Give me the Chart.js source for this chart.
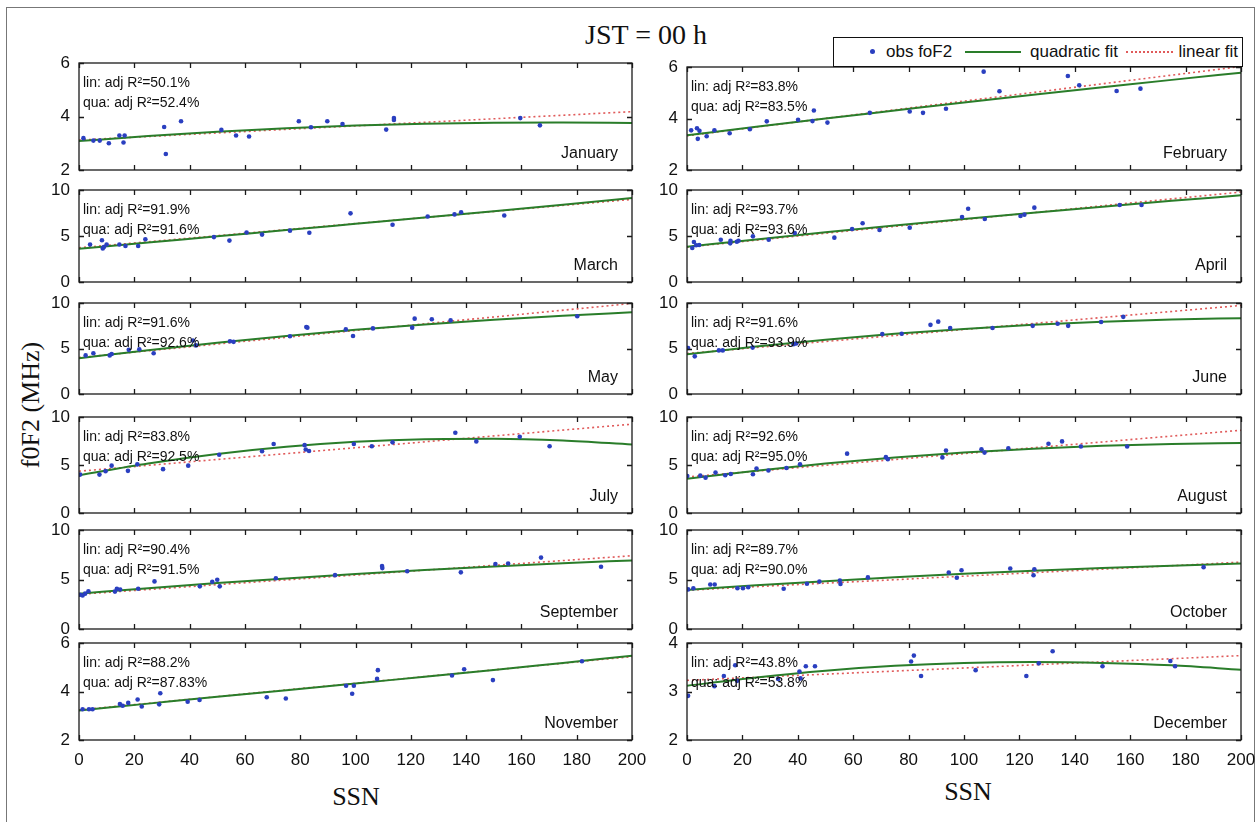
<!DOCTYPE html>
<html>
<head>
<meta charset="utf-8">
<script src="https://cdn.jsdelivr.net/npm/chart.js@4.4.1/dist/chart.umd.min.js"></script>
<style>
  body { margin: 0; background: #fff; }
  #fig { position: relative; width: 1259px; height: 822px; overflow: hidden; background: #fff;
         font-family: "Liberation Sans", Arial, sans-serif; color: #111; }
  #fig canvas { position: absolute; }
  .outer { position: absolute; left: 6px; top: 7px; width: 1247px; height: 900px; border: 1px solid #777; }
  .serif { position: absolute; font-family: "Liberation Serif", "Times New Roman", serif; white-space: nowrap;
           transform: translate(-50%, -50%); line-height: 1; }
  #legend { position: absolute; left: 833px; top: 37px; width: 410px; height: 30px; box-sizing: border-box;
            border: 1.5px solid #111; background: #fff; z-index: 5; font-size: 17px; }
  #legend span { position: absolute; white-space: nowrap; }
</style>
</head>
<body>
<div id="fig">
  <div class="outer"></div>
  <div class="serif" style="left:646px; top:35px; font-size:28px;">JST = 00 h</div>
  <div class="serif" style="left:31px; top:405px; font-size:26px; transform: translate(-50%,-50%) rotate(-90deg);">f0F2 (MHz)</div>
  <div class="serif" style="left:356px; top:797px; font-size:26px;">SSN</div>
  <div class="serif" style="left:968px; top:792px; font-size:26px;">SSN</div>
  <div id="legend">
    <span style="left:36px; top:11px; width:5px; height:5px; border-radius:50%; background:#2a3fc0;"></span>
    <span style="left:52px; top:4px;">obs foF2</span>
    <span style="left:131px; top:13px; width:56px; border-top:2px solid #2a7d2a;"></span>
    <span style="left:196px; top:4px;">quadratic fit</span>
    <span style="left:292px; top:13px; width:47px; border-top:2px dotted #e05a5a;"></span>
    <span style="right:4px; top:4px;">linear fit</span>
  </div>
</div>
<script>
// SSN grid used for the fitted curves
const fitSsn = [0, 25, 50, 75, 100, 125, 150, 175, 200];
const linSsn = [0, 200];

const months = ['January', 'February', 'March', 'April', 'May', 'June',
                'July', 'August', 'September', 'October', 'November', 'December'];
const linR2 = ['50.1', '83.8', '91.9', '93.7', '91.6', '91.6', '83.8', '92.6', '90.4', '89.7', '88.2', '43.8'];
const quaR2 = ['52.4', '83.5', '91.6', '93.6', '92.6', '93.9', '92.5', '95.0', '91.5', '90.0', '87.83', '53.8'];
const yMin  = [2, 2, 0, 0, 0, 0, 0, 0, 0, 0, 2, 2];
const yMax  = [6, 6, 10, 10, 10, 10, 10, 10, 10, 10, 6, 4];
const yStep = [2, 2, 5, 5, 5, 5, 5, 5, 5, 5, 2, 1];

// observed foF2 (MHz) against sunspot number, per month
const janSsn = [1.6, 5.2, 7.5, 10.8, 14.6, 16.1, 16.5, 30.8, 31.4, 36.9, 51.5, 56.8, 61.5, 79.5, 83.9, 89.8, 95.3, 111.1, 113.9, 113.9, 159.6, 166.7];
const janFo  = [3.19, 3.10, 3.10, 3.00, 3.29, 3.03, 3.29, 3.61, 2.60, 3.82, 3.50, 3.29, 3.25, 3.82, 3.60, 3.82, 3.72, 3.51, 3.94, 3.87, 3.94, 3.67];
const janQua = [3.08, 3.27, 3.43, 3.56, 3.66, 3.73, 3.77, 3.78, 3.76];
const janLin = [3.12, 4.18];

const febSsn = [1.5, 3.6, 3.9, 4.5, 7.1, 9.9, 15.4, 22.7, 28.8, 40.1, 45.3, 45.8, 50.7, 66.0, 80.4, 85.2, 93.5, 107.1, 112.8, 137.5, 141.6, 155.1, 163.7];
const febFo  = [3.54, 3.62, 3.21, 3.52, 3.31, 3.54, 3.43, 3.58, 3.89, 3.95, 3.90, 4.31, 3.84, 4.22, 4.27, 4.22, 4.38, 5.82, 5.06, 5.65, 5.29, 5.07, 5.16];
const febQua = [3.35, 3.68, 4.00, 4.31, 4.62, 4.92, 5.21, 5.50, 5.78];
const febLin = [3.33, 6.02];

const marSsn = [4.0, 8.3, 8.6, 9.0, 10.0, 14.6, 16.8, 21.4, 24.0, 48.8, 54.4, 60.6, 66.2, 76.3, 83.3, 98.2, 113.4, 126.1, 135.8, 138.2, 153.8];
const marFo  = [4.08, 4.54, 3.65, 3.81, 4.08, 4.08, 3.92, 3.92, 4.65, 4.88, 4.50, 5.38, 5.15, 5.58, 5.35, 7.46, 6.23, 7.12, 7.35, 7.58, 7.23];
const marQua = [3.62, 4.29, 4.97, 5.64, 6.32, 7.00, 7.69, 8.40, 9.12];
const marLin = [3.72, 8.98];

const aprSsn = [1.9, 2.5, 3.3, 4.4, 12.2, 15.6, 15.7, 18.0, 18.6, 23.8, 29.5, 38.9, 53.2, 59.6, 63.4, 69.5, 80.4, 99.3, 101.5, 107.5, 120.4, 121.8, 125.4, 156.2, 164.1];
const aprFo  = [3.70, 4.35, 3.99, 4.02, 4.60, 4.20, 4.49, 4.38, 4.49, 4.96, 4.60, 5.33, 4.82, 5.76, 6.38, 5.65, 5.91, 7.07, 7.97, 6.85, 7.17, 7.32, 8.08, 8.37, 8.37];
const aprQua = [3.84, 4.63, 5.40, 6.14, 6.85, 7.53, 8.19, 8.82, 9.42];
const aprLin = [3.80, 9.78];

const maySsn = [2.4, 5.2, 11.1, 11.8, 18.0, 21.8, 27.0, 41.2, 42.3, 54.6, 55.9, 76.3, 82.2, 82.6, 96.5, 99.1, 106.3, 120.5, 121.4, 127.6, 134.4, 180.2];
const mayFo  = [4.24, 4.47, 4.24, 4.39, 4.85, 4.92, 4.47, 5.88, 5.34, 5.80, 5.73, 6.34, 7.37, 7.29, 7.10, 6.37, 7.21, 7.29, 8.28, 8.21, 8.09, 8.55];
const mayQua = [3.93, 4.82, 5.64, 6.38, 7.05, 7.64, 8.16, 8.60, 8.97];
const mayLin = [4.00, 9.95];

const junSsn = [0.4, 2.8, 11.5, 12.9, 23.7, 38.5, 39.4, 70.5, 77.5, 87.9, 90.7, 95.0, 110.3, 124.8, 133.8, 137.6, 149.5, 157.5];
const junFo  = [5.06, 4.14, 4.79, 4.79, 5.10, 5.48, 5.55, 6.58, 6.62, 7.60, 7.95, 7.26, 7.26, 7.49, 7.72, 7.49, 7.91, 8.48];
const junQua = [4.37, 5.21, 5.96, 6.61, 7.15, 7.60, 7.94, 8.19, 8.33];
const junLin = [4.45, 9.73];

const julSsn = [0.4, 7.4, 9.6, 11.8, 17.7, 21.1, 30.4, 39.5, 50.7, 66.2, 70.4, 81.6, 82.0, 83.2, 99.4, 105.9, 113.4, 136.1, 143.7, 159.4, 170.2];
const julFo  = [4.00, 4.00, 4.36, 4.93, 4.39, 5.07, 4.57, 4.93, 6.07, 6.43, 7.18, 7.07, 6.61, 6.46, 7.18, 6.96, 7.36, 8.36, 7.46, 7.93, 6.96];
const julQua = [3.93, 5.15, 6.14, 6.89, 7.41, 7.69, 7.74, 7.56, 7.14];
const julLin = [4.35, 9.25];

const augSsn = [0.1, 4.8, 6.7, 10.3, 13.8, 15.8, 23.8, 25.1, 29.4, 35.9, 40.8, 57.8, 71.8, 72.5, 92.2, 93.5, 106.3, 107.4, 116.0, 130.5, 135.4, 142.2, 158.9];
const augFo  = [3.86, 3.89, 3.68, 4.21, 3.93, 4.07, 4.04, 4.64, 4.43, 4.68, 5.07, 6.18, 5.82, 5.61, 5.79, 6.50, 6.64, 6.29, 6.75, 7.21, 7.46, 6.93, 6.93];
const augQua = [3.57, 4.41, 5.15, 5.77, 6.29, 6.70, 7.01, 7.20, 7.29];
const augLin = [3.75, 8.62];

const sepSsn = [0.4, 1.3, 2.2, 3.4, 13.0, 13.7, 14.9, 21.4, 27.3, 43.7, 48.2, 50.0, 50.9, 71.2, 92.6, 109.6, 109.7, 118.7, 138.1, 150.6, 155.2, 167.1, 188.8];
const sepFo  = [3.46, 3.39, 3.57, 3.82, 3.78, 4.06, 3.99, 4.06, 4.81, 4.31, 4.77, 4.98, 4.31, 5.12, 5.44, 6.36, 6.15, 5.83, 5.72, 6.57, 6.61, 7.21, 6.29];
const sepQua = [3.57, 4.12, 4.64, 5.11, 5.55, 5.95, 6.32, 6.64, 6.93];
const sepLin = [3.50, 7.40];

const octSsn = [0.4, 2.3, 8.4, 10.0, 18.2, 20.2, 22.1, 34.9, 43.3, 47.8, 55.2, 55.4, 65.3, 94.5, 97.4, 99.1, 116.7, 125.1, 125.4, 186.5];
const octFo  = [4.00, 4.11, 4.50, 4.50, 4.11, 4.11, 4.21, 4.07, 4.57, 4.79, 4.89, 4.54, 5.21, 5.71, 5.18, 5.93, 6.11, 5.43, 6.04, 6.25];
const octQua = [3.95, 4.41, 4.83, 5.22, 5.57, 5.88, 6.16, 6.40, 6.61];
const octLin = [3.92, 6.75];

const novSsn = [1.3, 3.6, 4.9, 14.8, 15.8, 17.8, 21.2, 22.7, 29.0, 29.4, 39.3, 43.6, 67.9, 74.8, 96.6, 98.8, 99.4, 107.8, 108.1, 134.9, 139.3, 149.7, 181.9];
const novFo  = [3.27, 3.27, 3.27, 3.48, 3.41, 3.53, 3.67, 3.38, 3.47, 3.93, 3.58, 3.65, 3.76, 3.71, 4.24, 3.91, 4.24, 4.52, 4.88, 4.66, 4.92, 4.47, 5.25];
const novQua = [3.22, 3.50, 3.78, 4.05, 4.33, 4.61, 4.89, 5.18, 5.47];
const novLin = [3.24, 5.44];

const decSsn = [0.4, 9.9, 13.3, 17.4, 18.1, 32.9, 40.6, 41.0, 42.9, 46.2, 80.9, 81.9, 84.5, 104.2, 122.5, 127.0, 132.0, 150.0, 174.5, 176.2];
const decFo  = [2.91, 3.11, 3.32, 3.54, 3.22, 3.26, 3.41, 3.27, 3.52, 3.52, 3.62, 3.74, 3.32, 3.44, 3.32, 3.58, 3.83, 3.52, 3.63, 3.52];
const decQua = [3.12, 3.29, 3.43, 3.53, 3.59, 3.61, 3.59, 3.54, 3.45];
const decLin = [3.23, 3.74];

const ssnAll = [janSsn, febSsn, marSsn, aprSsn, maySsn, junSsn, julSsn, augSsn, sepSsn, octSsn, novSsn, decSsn];
const foAll  = [janFo, febFo, marFo, aprFo, mayFo, junFo, julFo, augFo, sepFo, octFo, novFo, decFo];
const quaAll = [janQua, febQua, marQua, aprQua, mayQua, junQua, julQua, augQua, sepQua, octQua, novQua, decQua];
const linAll = [janLin, febLin, marLin, aprLin, mayLin, junLin, julLin, augLin, sepLin, octLin, novLin, decLin];

// panel frames on the page
const colLeft  = [79, 687];
const colRight = [632, 1241];
const rowTop    = [63, 190, 303, 417, 530, 643];
const rowBottom = [170, 282, 394, 513, 629, 740];

const FONT = '"Liberation Sans", Arial, sans-serif';

// box, inward ticks on all four sides, R² notes and month name
const framePlugin = {
  id: 'frame',
  afterDraw(chart, args, opts) {
    const { ctx, chartArea: a, scales: { x, y } } = chart;
    ctx.save();
    ctx.strokeStyle = '#1a1a1a';
    ctx.lineWidth = 1.3;
    ctx.strokeRect(a.left, a.top, a.right - a.left, a.bottom - a.top);
    ctx.beginPath();
    x.ticks.forEach(t => {
      const px = Math.round(x.getPixelForValue(t.value)) + 0.5;
      ctx.moveTo(px, a.bottom); ctx.lineTo(px, a.bottom - 5);
      ctx.moveTo(px, a.top); ctx.lineTo(px, a.top + 5);
    });
    y.ticks.forEach(t => {
      const py = Math.round(y.getPixelForValue(t.value)) + 0.5;
      ctx.moveTo(a.left, py); ctx.lineTo(a.left + 5, py);
      ctx.moveTo(a.right, py); ctx.lineTo(a.right - 5, py);
    });
    ctx.stroke();

    ctx.fillStyle = '#111';
    ctx.textBaseline = 'middle';
    ctx.font = '14px ' + FONT;
    ctx.fillText('lin: adj R²=' + opts.lin + '%', a.left + 4, a.top + 20);
    ctx.fillText('qua: adj R²=' + opts.qua + '%', a.left + 4, a.top + 40);
    ctx.font = '16px ' + FONT;
    ctx.textAlign = 'right';
    ctx.fillText(opts.month, a.right - 14, a.bottom - 16);
    ctx.restore();
  }
};

const fig = document.getElementById('fig');

months.forEach((month, i) => {
  const col = i % 2, row = Math.floor(i / 2);
  const L = colLeft[col], R = colRight[col];
  const T = (i === 1) ? 67 : rowTop[row];
  const B = rowBottom[row];
  const lastRow = row === 5;

  const canvas = document.createElement('canvas');
  canvas.width = (R - L) + 60 + 22;
  canvas.height = (B - T) + 10 + (lastRow ? 32 : 10);
  canvas.style.left = (L - 60) + 'px';
  canvas.style.top = (T - 10) + 'px';
  fig.appendChild(canvas);

  const chart = new Chart(canvas, {
    type: 'scatter',
    data: {
      datasets: [
        {
          label: 'obs foF2',
          data: ssnAll[i].map((s, k) => ({ x: s, y: foAll[i][k] })),
          backgroundColor: '#2a3fc0',
          borderWidth: 0,
          pointRadius: 2.3,
          order: 0
        },
        {
          type: 'line',
          label: 'quadratic fit',
          data: fitSsn.map((s, k) => ({ x: s, y: quaAll[i][k] })),
          borderColor: '#2a7d2a',
          borderWidth: 2,
          pointRadius: 0,
          cubicInterpolationMode: 'monotone',
          order: 1
        },
        {
          type: 'line',
          label: 'linear fit',
          data: linSsn.map((s, k) => ({ x: s, y: linAll[i][k] })),
          borderColor: '#e05a5a',
          borderWidth: 1.6,
          borderDash: [2, 3],
          pointRadius: 0,
          order: 2
        }
      ]
    },
    options: {
      responsive: false,
      animation: false,
      devicePixelRatio: 1,
      events: [],
      layout: { padding: { left: 0, top: 10, right: 22, bottom: lastRow ? 0 : 10 } },
      plugins: {
        legend: { display: false },
        tooltip: { enabled: false },
        frame: { month: month, lin: linR2[i], qua: quaR2[i] }
      },
      scales: {
        x: {
          type: 'linear', min: 0, max: 200,
          grid: { display: false, drawTicks: false },
          border: { display: false },
          ticks: { display: lastRow, stepSize: 20, padding: 10, color: '#111', font: { family: FONT, size: 17 } },
          afterFit: s => { s.height = lastRow ? 32 : 0; s.paddingLeft = 0; s.paddingRight = 0; }
        },
        y: {
          min: yMin[i], max: yMax[i],
          grid: { display: false, drawTicks: false },
          border: { display: false },
          ticks: { stepSize: yStep[i], padding: 9, color: '#111', font: { family: FONT, size: 17 } },
          afterFit: s => { s.width = 60; s.paddingTop = 0; s.paddingBottom = 0; }
        }
      }
    },
    plugins: [framePlugin]
  });

  // line the plot area up with the panel frame if the layout shifted it
  const a = chart.chartArea;
  const dTop = a.top - 10;
  const dH = (B - T) - (a.bottom - a.top);
  if (dTop !== 0 || dH !== 0) {
    canvas.style.top = (T - 10 - dTop) + 'px';
    chart.resize(canvas.width, canvas.height + dH);
  }
});
</script>
</body>
</html>
